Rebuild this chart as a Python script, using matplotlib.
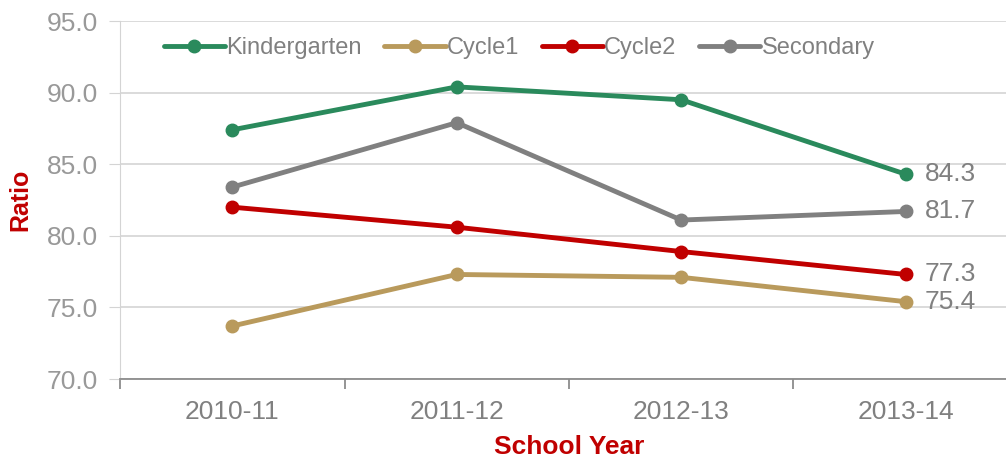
import numpy as np
import matplotlib.pyplot as plt

plt.rcParams['font.family'] = ['Liberation Sans', 'DejaVu Sans']

years = ['2010-11', '2011-12', '2012-13', '2013-14']
kindergarten = [87.4, 90.4, 89.5, 84.3]
cycle1 = [73.7, 77.3, 77.1, 75.4]
cycle2 = [82.0, 80.6, 78.9, 77.3]
secondary = [83.4, 87.9, 81.1, 81.7]

series = [
    ('Kindergarten', kindergarten, '#2A8A5C'),
    ('Cycle1', cycle1, '#B99A5C'),
    ('Cycle2', cycle2, '#C00000'),
    ('Secondary', secondary, '#808080'),
]

fig = plt.figure(figsize=(10.06, 4.61), dpi=100)
ax = fig.add_axes([120 / 1006, 1 - 379 / 461, 898 / 1006, 358 / 461])

x = np.arange(len(years))
for name, vals, col in series:
    ax.plot(x, vals, color=col, lw=3.5, marker='o', ms=9, label=name, solid_capstyle='round')
    ax.text(x[-1] + 0.085, vals[-1], f'{vals[-1]:.1f}', color='#808080', fontsize=19,
            va='center', ha='left')

ax.set_ylim(70, 95)
ax.set_yticks(np.arange(70, 95.1, 5))
ax.set_yticklabels([f'{v:.1f}' for v in np.arange(70, 95.1, 5)])
ax.set_xlim(-0.5, 3.5)
ax.set_xticks(x)
ax.set_xticklabels(years)
ax.set_xticks(np.arange(-0.5, 3.6, 1), minor=True)

ax.grid(axis='y', color='#d4d4d4', lw=1.2)
ax.set_axisbelow(True)
for s in ['top', 'right']:
    ax.spines[s].set_visible(False)
ax.spines['left'].set_color('#d4d4d4')
ax.spines['bottom'].set_color('#8c8c8c')
ax.spines['bottom'].set_linewidth(1.3)
ax.tick_params(axis='y', colors='#d4d4d4', labelcolor='#999999', labelsize=19, length=8, pad=8)
ax.tick_params(axis='x', which='major', length=0, labelcolor='#808080', labelsize=19, pad=15)
ax.tick_params(axis='x', which='minor', length=7, color='#8c8c8c', width=1.3)

ax.set_ylabel('Ratio', color='#C00000', fontweight='bold', fontsize=18, labelpad=10)
ax.set_xlabel('School Year', color='#C00000', fontweight='bold', fontsize=19, labelpad=8)

leg = ax.legend(loc='upper left', bbox_to_anchor=(0.025, 1.015), ncol=4, frameon=False,
                fontsize=17, handlelength=2.6, handletextpad=0.05, columnspacing=0.95,
                labelcolor='#808080')

fig.savefig('out.png', dpi=100)
